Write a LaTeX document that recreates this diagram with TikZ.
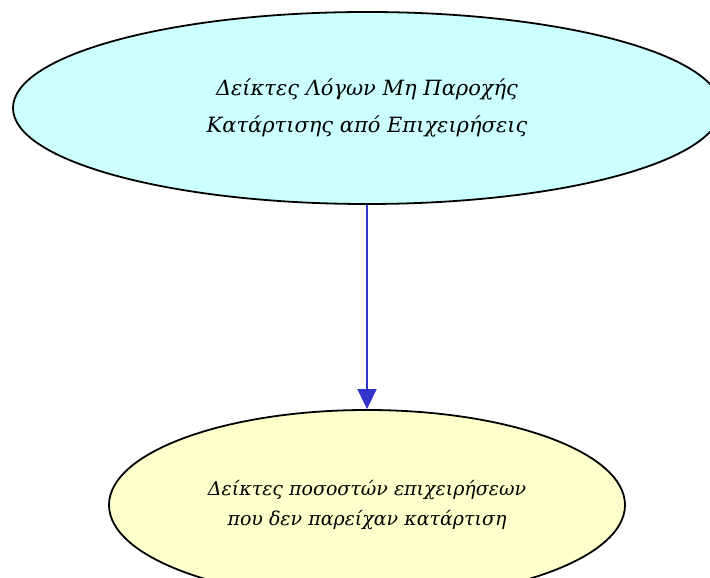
\documentclass[tikz,border=0pt]{standalone}
\usepackage{fontspec}
\setmainfont{DejaVu Serif}
\usepackage{xcolor}
\usetikzlibrary{positioning,arrows.meta,shapes.geometric}
\definecolor{topfill}{HTML}{CCFFFF}
\definecolor{leaffill}{HTML}{FFFFCC}
\definecolor{linkblue}{HTML}{3333CC}
\begin{document}
\begin{tikzpicture}
		[x=1pt,y=1pt,
		every node/.style={ellipse,draw=black,line width=1.8pt,inner sep=0pt,align=center},
		indexnode/.style={fill=topfill,minimum width=708pt,minimum height=192pt,
			font=\fontsize{21}{37}\selectfont\itshape},
		leafnode/.style={fill=leaffill,minimum width=516pt,minimum height=190pt,
			font=\fontsize{19}{30}\selectfont\itshape},
		link/.style={draw=linkblue,line width=1.8pt,-{Triangle[length=20pt,width=19pt]}}]
		\clip (0,0) rectangle (710,578);
		\useasboundingbox (0,0) rectangle (710,578);
		\node[indexnode] (deiktes) at (367,470) {Δείκτες Λόγων Μη Παροχής\\ Κατάρτισης από Επιχειρήσεις};
		\node[leafnode] (pososta) at (367,73) {Δείκτες ποσοστών επιχειρήσεων\\ που δεν παρείχαν κατάρτιση};
		\path[link] (deiktes) -- (pososta);
\end{tikzpicture}
\end{document}
